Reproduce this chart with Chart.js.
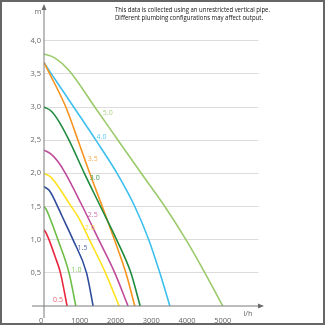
<!DOCTYPE html>
<html>
<head>
<meta charset="utf-8">
<script src="https://cdn.jsdelivr.net/npm/chart.js@4.4.1/dist/chart.umd.min.js"></script>
<style>
	html, body { margin: 0; padding: 0; background: #fff; }
	#wrap { width: 325px; height: 325px; position: relative; }
</style>
</head>
<body>
<div id="wrap"><canvas id="myChart" width="325" height="325"></canvas></div>
<script>
const seriesNames = ["0.5", "1.0", "1.5", "2.0", "2.5", "3.0", "3.5", "4.0", "5.0"];
const seriesColors = ["#e8263d", "#6cbd45", "#2f4c9c", "#ffe11f", "#c04a9c", "#1f8b3f", "#f7941e", "#3dbfef", "#9bca6b"];
const labelColors = ["#ee5a6b", "#86c866", "#4f68ab", "#ffd84a", "#cc6cad", "#3c9a55", "#f9ab55", "#5ccbf2", "#a9d183"];

// flow l/h and head m for each curve
const q05 = [0, 60, 140, 300, 460, 645];
const h05 = [1.15, 1.1, 1.0, 0.76, 0.5, 0];
const q10 = [0, 70, 140, 390, 700, 890];
const h10 = [1.5, 1.45, 1.36, 1.0, 0.5, 0];
const q15 = [0, 150, 330, 500, 810, 1190, 1375];
const h15 = [1.8, 1.74, 1.56, 1.36, 1.0, 0.5, 0];
const q20 = [0, 200, 450, 700, 1000, 1270, 1720, 2100];
const h20 = [2.0, 1.94, 1.76, 1.55, 1.3, 1.0, 0.5, 0];
const q25 = [0, 200, 400, 600, 1050, 1530, 1980, 2350];
const h25 = [2.35, 2.29, 2.17, 2.0, 1.53, 1.0, 0.5, 0];
const q30 = [0, 200, 420, 700, 1130, 1580, 2030, 2430, 2690];
const h30 = [3.0, 2.94, 2.78, 2.5, 2.0, 1.5, 1.0, 0.5, 0];
const q35 = [0, 160, 610, 950, 1280, 1630, 1970, 2290, 2540];
const h35 = [3.67, 3.5, 3.0, 2.5, 2.0, 1.5, 1.0, 0.5, 0];
const q40 = [0, 207, 830, 1450, 2045, 2540, 2930, 3240, 3520];
const h40 = [3.67, 3.5, 3.0, 2.5, 2.0, 1.5, 1.0, 0.5, 0];
const q50 = [0, 300, 700, 1420, 2070, 2720, 3380, 3970, 4500, 5000];
const h50 = [3.8, 3.74, 3.55, 3.0, 2.5, 2.0, 1.5, 1.0, 0.5, 0];

const flows = [q05, q10, q15, q20, q25, q30, q35, q40, q50];
const heads = [h05, h10, h15, h20, h25, h30, h35, h40, h50];

// where the curve names sit
const labelQ = [392, 908, 1076, 1280, 1364, 1420, 1364, 1608, 1784];
const labelH = [0.09, 0.54, 0.87, 1.18, 1.37, 1.93, 2.22, 2.55, 2.91];

const xTicks = [0, 1000, 2000, 3000, 4000, 5000];
const yTicks = [0.5, 1.0, 1.5, 2.0, 2.5, 3.0, 3.5, 4.0];
const note = ["This data is collected using an unrestricted vertical pipe.", "Different plumbing configurations may affect output."];

const datasets = seriesNames.map((name, i) => ({
	label: name,
	data: flows[i].map((q, j) => ({ x: q, y: heads[i][j] })),
	borderColor: seriesColors[i],
	borderWidth: 1.6,
	pointRadius: 0,
	fill: false,
	cubicInterpolationMode: "monotone",
}));

const extras = {
	id: "extras",
	afterDraw(chart) {
		const c = chart.ctx;
		const xs = chart.scales.x;
		const ys = chart.scales.y;
		const x0 = xs.getPixelForValue(0);
		const y0 = ys.getPixelForValue(0);
		c.save();
		// axes with arrows
		c.strokeStyle = "#7a7a7a";
		c.fillStyle = "#6a6a6a";
		c.lineWidth = 1;
		c.beginPath();
		c.moveTo(x0, 8);
		c.lineTo(x0, y0 + 12);
		c.moveTo(x0 - 12, y0);
		c.lineTo(259, y0);
		c.stroke();
		c.beginPath();
		c.moveTo(x0, 4);
		c.lineTo(x0 - 2.5, 10);
		c.lineTo(x0 + 2.5, 10);
		c.closePath();
		c.fill();
		c.beginPath();
		c.moveTo(264, y0);
		c.lineTo(258, y0 - 2.5);
		c.lineTo(258, y0 + 2.5);
		c.closePath();
		c.fill();
		// axis units
		c.font = "7.5px 'Open Sans'";
		c.fillStyle = "#666";
		c.textAlign = "center";
		c.textBaseline = "middle";
		c.fillText("m", x0 - 6, 12);
		c.fillText("l/h", 248, y0 + 8);
		// curve names
		c.font = "7px 'Open Sans'";
		seriesNames.forEach((name, i) => {
			c.fillStyle = labelColors[i];
			c.fillText(name, xs.getPixelForValue(labelQ[i]), ys.getPixelForValue(labelH[i]));
		});
		// note
		c.fillStyle = "#111";
		c.textAlign = "left";
		c.font = "7.8px 'Open Sans'";
		c.fillText(note[0], 115, 10, 155);
		c.fillText(note[1], 115, 18, 148);
		// frame
		c.strokeStyle = "#666";
		c.lineWidth = 2;
		c.strokeRect(1, 1, 323, 323);
		c.restore();
	},
};

const ctx = document.getElementById("myChart");

const myChart = new Chart(ctx, {
	type: "line",
	data: { datasets: datasets },
	plugins: [extras],
	options: {
		responsive: false,
		animation: false,
		layout: { padding: { left: 0, top: 4.5, right: 66.5, bottom: 0 } },
		plugins: { legend: { display: false }, tooltip: { enabled: false } },
		scales: {
			x: {
				type: "linear",
				min: 0,
				max: 6000,
				afterBuildTicks: (s) => { s.ticks = xTicks.map((v) => ({ value: v })); },
				afterFit: (s) => { s.height = 19; },
				ticks: {
					color: "#666",
					font: { size: 7.5, family: "'Open Sans'" },
					padding: 2,
					maxRotation: 0,
					callback: (v) => (v === 0 ? "0   " : String(v)),
				},
				grid: { display: false },
				border: { display: false },
			},
			y: {
				type: "linear",
				min: 0,
				max: 4.5,
				afterBuildTicks: (s) => { s.ticks = yTicks.map((v) => ({ value: v })); },
				afterFit: (s) => { s.width = 44; },
				ticks: {
					color: "#666",
					font: { size: 7.5, family: "'Open Sans'" },
					padding: 3,
					callback: (v) => v.toFixed(1).replace(".", ","),
				},
				grid: { color: "#dcdcdc", lineWidth: 1, drawTicks: false },
				border: { display: false },
			},
		},
	},
});
</script>
</body>
</html>
